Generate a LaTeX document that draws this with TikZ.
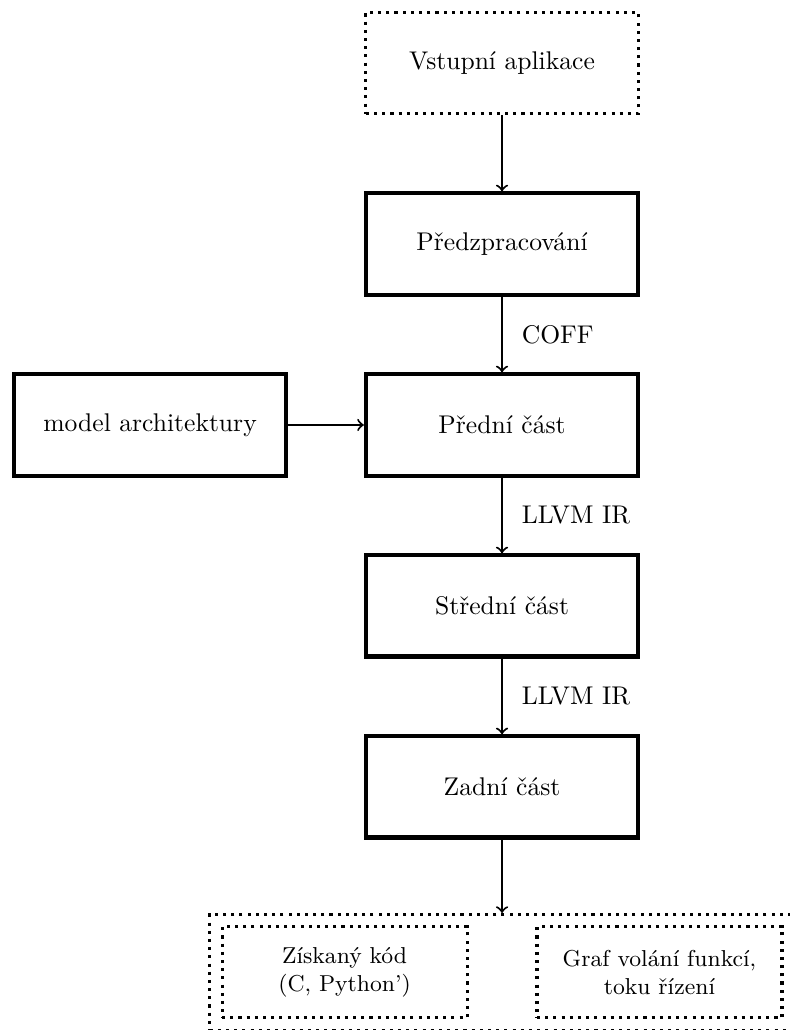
\documentclass[tikz,border=0pt]{standalone}
\usetikzlibrary{fit}
\begin{document}
\begin{tikzpicture}[>=to, node distance=2.486cm,
  block/.style={draw, line width=1.6pt, align=center, minimum width=3.74cm, minimum height=1.39cm},
  dotbox/.style={draw, line width=1.2pt, dash pattern=on 1.2pt off 2pt, align=center},
  resbox/.style={dotbox, font=\small, minimum width=3.365cm, minimum height=1.25cm},
  flow/.style={->, thick}]
\useasboundingbox (0,0) rectangle (10.838,-14.148);
\node[dotbox, minimum width=3.74cm, minimum height=1.39cm] (in) at (6.896,-0.865) {Vstupní aplikace};
\node[block, below of=in] (pre) {Předzpracování};
\node[block, below of=pre] (front) {Přední část};
\node[block, left of=front, xshift=-2.349cm] (arch) {model architektury};
\node[block, below of=front] (mid) {Střední část};
\node[block, below of=mid] (back) {Zadní část};
\node[resbox, below of=back, xshift=-2.163cm, yshift=-0.062cm] (code) {Získaný kód\\(C, Python')};
\node[resbox, below of=back, xshift=2.163cm, yshift=-0.062cm] (graph) {Graf volání funkcí,\\toku řízení};
\node[dotbox, fit=(code)(graph), inner sep=0.15cm] (out) {};
\draw[flow] (in) -- (pre);
\draw[flow] (pre) -- node[right=4pt] {COFF} (front);
\draw[flow] (arch) -- (front);
\draw[flow] (front) -- node[right=4pt] {LLVM IR} (mid);
\draw[flow] (mid) -- node[right=4pt] {LLVM IR} (back);
\draw[flow] (back) -- (out);
\end{tikzpicture}
\end{document}
